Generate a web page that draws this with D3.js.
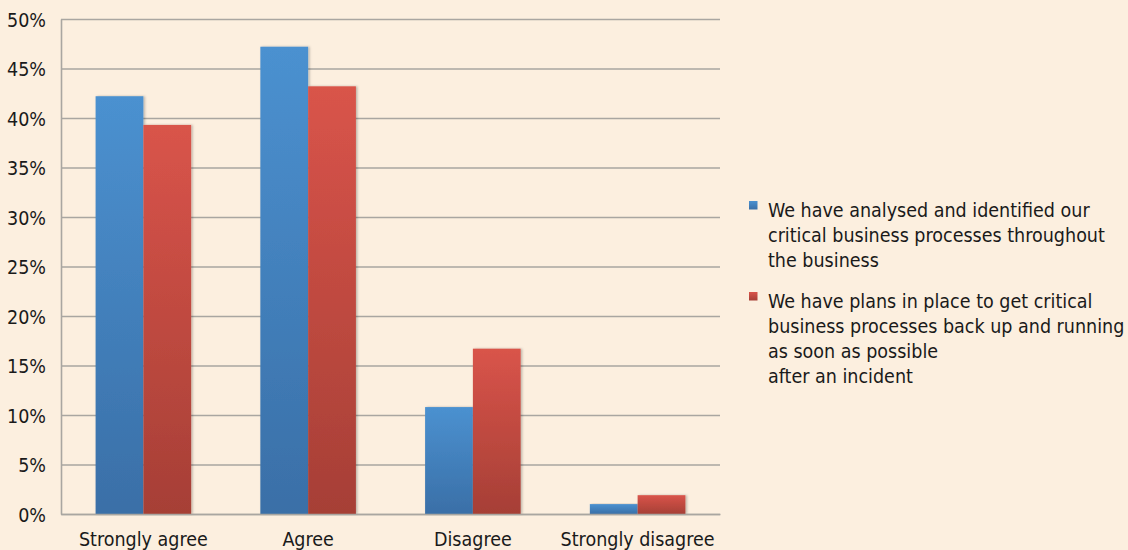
<!DOCTYPE html>
<html>
<head>
<meta charset="utf-8">
<script src="https://cdn.jsdelivr.net/npm/d3@7"></script>
<style>
  html, body { margin: 0; padding: 0; background: #fcefdf; }
  svg { display: block; }
  text { font-family: "Liberation Sans Narrow", "DejaVu Sans Condensed", "Roboto Condensed", sans-serif; fill: #1a1a1a; }
</style>
</head>
<body>
<svg id="chart" width="1128" height="550"></svg>
<script>
// Survey responses (share of respondents)
const categories = ["Strongly agree", "Agree", "Disagree", "Strongly disagree"];
const seriesNames = [
  ["We have analysed and identified our", "critical business processes throughout", "the business"],
  ["We have plans in place to get critical", "business processes back up and running", "as soon as possible", "after an incident"]
];
const identifiedValues = [42.2, 47.2, 10.8, 1.0];
const plansValues = [39.3, 43.2, 16.7, 1.9];
const yTicks = [0, 5, 10, 15, 20, 25, 30, 35, 40, 45, 50];

const series = [identifiedValues, plansValues];
const palette = [
  { top: "#4b91d0", bottom: "#3a6fa7" },
  { top: "#d9544a", bottom: "#a63f36" }
];

const svg = d3.select("#chart");
const plot = { left: 61, right: 720, top: 19, bottom: 514 };

const x = d3.scaleBand().domain(categories).range([plot.left, plot.right]).paddingInner(0.42).paddingOuter(0.21);
const xs = d3.scaleBand().domain(d3.range(series.length)).range([0, x.bandwidth()]);
const y = d3.scaleLinear().domain([0, 50]).range([plot.bottom, plot.top]);

// Gradients for bars and legend keys
const defs = svg.append("defs");
palette.forEach((p, i) => {
  const g = defs.append("linearGradient").attr("id", "grad" + i)
    .attr("x1", 0).attr("y1", 0).attr("x2", 0).attr("y2", 1);
  g.append("stop").attr("offset", "0%").attr("stop-color", p.top);
  g.append("stop").attr("offset", "100%").attr("stop-color", p.bottom);
});
const shadow = defs.append("filter").attr("id", "shadow").attr("x", "-10%").attr("y", "-10%").attr("width", "130%").attr("height", "120%");
shadow.append("feDropShadow").attr("dx", 1.5).attr("dy", 0).attr("stdDeviation", 1.2)
  .attr("flood-color", "#000").attr("flood-opacity", 0.25);

// Gridlines
svg.append("g")
  .attr("transform", `translate(${plot.left},0)`)
  .call(d3.axisLeft(y).tickValues(yTicks).tickSize(-(plot.right - plot.left)).tickFormat(""))
  .call(g => g.select(".domain").remove())
  .call(g => g.selectAll(".tick line").attr("stroke", "#a9a6a1").attr("stroke-width", 1.6));

// Y axis labels
svg.append("g")
  .attr("transform", `translate(${plot.left},0)`)
  .call(d3.axisLeft(y).tickValues(yTicks).tickSize(0).tickPadding(15).tickFormat(d => d + "%"))
  .call(g => g.select(".domain").attr("stroke", "#a9a6a1").attr("stroke-width", 1.6))
  .call(g => g.selectAll("text").style("font-size", "19.5px").attr("fill", "#1a1a1a").attr("dy", "0.38em"));

// Bars
const groups = svg.append("g").selectAll("g")
  .data(categories).join("g")
  .attr("transform", d => `translate(${x(d)},0)`);
groups.selectAll("rect")
  .data((d, ci) => series.map((s, si) => ({ si, v: s[ci] })))
  .join("rect")
  .attr("x", d => xs(d.si))
  .attr("width", xs.bandwidth())
  .attr("y", d => y(d.v))
  .attr("height", d => y(0) - y(d.v))
  .attr("fill", d => `url(#grad${d.si})`)
  .attr("filter", "url(#shadow)");

// X axis
svg.append("g")
  .attr("transform", `translate(0,${plot.bottom})`)
  .call(d3.axisBottom(x).tickSize(0).tickPadding(18))
  .call(g => g.select(".domain").attr("stroke", "#a9a6a1").attr("stroke-width", 1.6))
  .call(g => g.selectAll("text").style("font-size", "19.5px").attr("fill", "#1a1a1a"));

// Legend
const legend = svg.append("g");
const legendTops = [217, 308];
seriesNames.forEach((lines, i) => {
  const g = legend.append("g").attr("transform", `translate(749,${legendTops[i]})`);
  g.append("rect").attr("x", 0).attr("y", -16).attr("width", 8.5).attr("height", 8.5).attr("fill", `url(#grad${i})`);
  const t = g.append("text").attr("x", 19).attr("y", 0).style("font-size", "19.5px");
  lines.forEach((line, li) => {
    t.append("tspan").attr("x", 19).attr("dy", li === 0 ? 0 : 25).text(line);
  });
});
</script>
</body>
</html>
